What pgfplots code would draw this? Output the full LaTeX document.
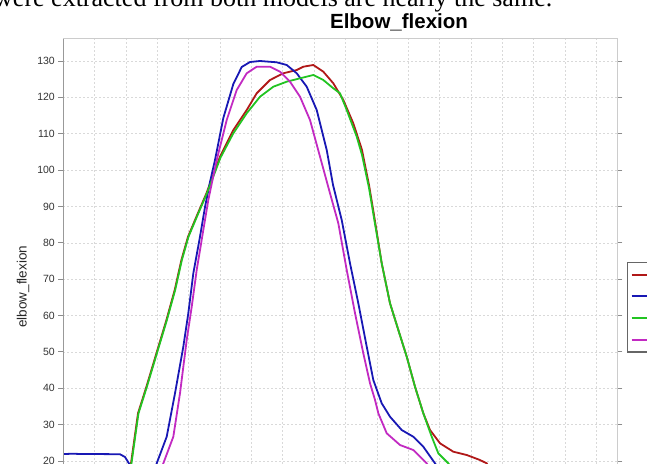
\documentclass[border=0pt]{standalone}
\usepackage{pgfplots}
\pgfplotsset{compat=1.18}
\usepackage{fontspec}
\setmainfont{Liberation Sans}
\newfontfamily\serifface{Liberation Serif}
\definecolor{cRed}{HTML}{B01818}
\definecolor{cBlue}{HTML}{1818B4}
\definecolor{cGreen}{HTML}{22C422}
\definecolor{cMag}{HTML}{C22AC2}
\begin{document}
\begin{tikzpicture}
\useasboundingbox (0,0) rectangle (647bp,464bp);
\clip (0,0) rectangle (647bp,464bp);
\node[anchor=base west, font=\serifface\fontsize{26bp}{30bp}\selectfont, inner sep=0pt] at (-6bp,457.5bp) {were extracted from both models are nearly the same.};
\node[anchor=base, inner sep=0pt, font=\fontsize{20.5bp}{24bp}\selectfont\bfseries] at (399bp,435bp) {Elbow\_flexion};
\begin{axis}[
  at={(63.3bp,0bp)}, anchor=south west,
  scale only axis, width=554bp, height=425bp,
  xmin=0, xmax=17.67, ymin=19.17, ymax=136.05,
  xtick={1,2,...,17}, xticklabels={},
  major x tick style={draw=none},
  ytick={20,30,...,130},
  grid=major,
  grid style={dash pattern=on 2bp off 2bp, color=black!15, line width=0.6bp},
  axis line style={draw=none},
  tick align=outside,
  y tick style={black!45, line width=0.8bp}, major tick length=5bp,
  yticklabel style={font=\fontsize{10.5bp}{12bp}\selectfont, text=black!80},
  /pgf/number format/assume math mode=true,
  ylabel={elbow\_flexion},
  ylabel style={at={(axis description cs:-0.0727,0.417)}, anchor=center, font=\fontsize{13.5bp}{15bp}\selectfont, text=black!85},
  no markers,
  every axis plot/.append style={line width=1.8bp, line join=round},
  legend style={at={(axis description cs:1.0170,0.476)}, anchor=north west, draw=black!60, line width=1.2bp, inner xsep=3.3bp, inner ysep=1.5bp, fill=white, font=\fontsize{10.5bp}{12bp}\selectfont, nodes={inner sep=0pt, minimum height=21.7bp}, row sep=0pt},
  legend cell align=left,
  extra description/.code={
    \draw[black!40, line width=1bp] (axis description cs:0,0) -- (axis description cs:0,1);
    \draw[black!20, line width=1bp] (axis description cs:0,1) -- (axis description cs:1,1) -- (axis description cs:1,0);
  },
]
\addplot[cRed] coordinates {
(1.9,15) (2.159,19.35) (2.383,33.11) (2.651,40.42) (2.970,49.61) (3.289,58.77) (3.553,67.02) (3.767,75.27) (3.978,81.68) (4.246,87.18) (4.565,93.61) (4.998,103.68) (5.423,111.02) (5.850,116.52) (6.169,121.12) (6.593,124.77) (7.018,126.62) (7.445,127.52) (7.656,128.43) (7.974,128.9) (8.293,127.06) (8.612,123.87) (8.931,119.27) (9.250,112.87) (9.528,105.52) (9.751,95.90) (9.910,87.65) (10.156,74.36) (10.421,63.36) (10.686,56.02) (10.954,48.68) (11.218,40.42) (11.483,33.11) (11.697,28.51) (12.016,24.85) (12.440,22.55) (12.868,21.64) (13.292,20.26) (13.505,19.35) (13.8,15)
};
\addlegendentry{Model 1 (reference)}
\addplot[cBlue] coordinates {
(0,21.9) (0.3,22.0) (0.6,21.9) (1.2,21.9) (1.809,21.85) (1.968,21.1) (2.118,19.0) (2.35,15) (2.85,15) (2.979,19.35) (3.298,26.67) (3.563,38.61) (3.828,51.43) (3.987,60.61) (4.147,71.61) (4.360,81.68) (4.520,89.85) (4.679,96.72) (4.839,102.77) (5.104,114.32) (5.423,123.67) (5.691,128.35) (5.955,129.72) (6.274,130.0) (6.807,129.64) (7.126,128.9) (7.445,126.62) (7.764,122.93) (8.083,116.52) (8.402,105.52) (8.603,95.90) (8.880,86.27) (9.145,74.36) (9.410,63.36) (9.678,51.43) (9.888,42.27) (10.156,35.86) (10.421,32.17) (10.794,28.51) (11.164,26.67) (11.483,23.92) (11.856,19.35) (12.2,15)
};
\addlegendentry{Model 1 (estimated)}
\addplot[cGreen] coordinates {
(1.92,15) (2.174,19.35) (2.398,33.11) (2.666,40.42) (2.985,49.61) (3.304,58.77) (3.568,67.02) (3.782,75.27) (3.993,81.68) (4.261,87.18) (4.580,93.61) (5.013,103.4) (5.423,110.12) (5.850,115.62) (6.274,120.18) (6.699,122.93) (7.126,124.31) (7.550,125.24) (7.974,126.15) (8.293,124.77) (8.612,122.49) (8.826,121.12) (9.040,116.52) (9.359,109.18) (9.528,104.15) (9.751,95.07) (9.910,86.82) (10.156,74.36) (10.421,63.36) (10.686,56.02) (10.954,48.68) (11.218,40.42) (11.483,33.11) (11.751,26.67) (11.962,22.1) (12.281,19.35) (12.6,15)
};
\addlegendentry{Model 2 (reference)}
\addplot[cMag] coordinates {
(3.0,15) (3.190,19.35) (3.509,26.67) (3.722,38.61) (3.936,53.27) (4.096,62.43) (4.255,72.52) (4.466,83.52) (4.625,91.77) (4.893,102.77) (5.212,113.77) (5.531,122.02) (5.850,126.62) (6.169,128.43) (6.593,128.43) (6.912,127.06) (7.231,124.31) (7.550,120.18) (7.869,113.77) (8.188,103.68) (8.507,93.61) (8.772,85.36) (9.040,72.52) (9.305,60.61) (9.569,49.61) (9.783,41.36) (9.943,36.77) (10.048,33.11) (10.316,27.61) (10.740,24.39) (11.164,23.01) (11.592,19.35) (11.9,15)
};
\addlegendentry{Model 2 (estimated)}
\end{axis}
\end{tikzpicture}
\end{document}
